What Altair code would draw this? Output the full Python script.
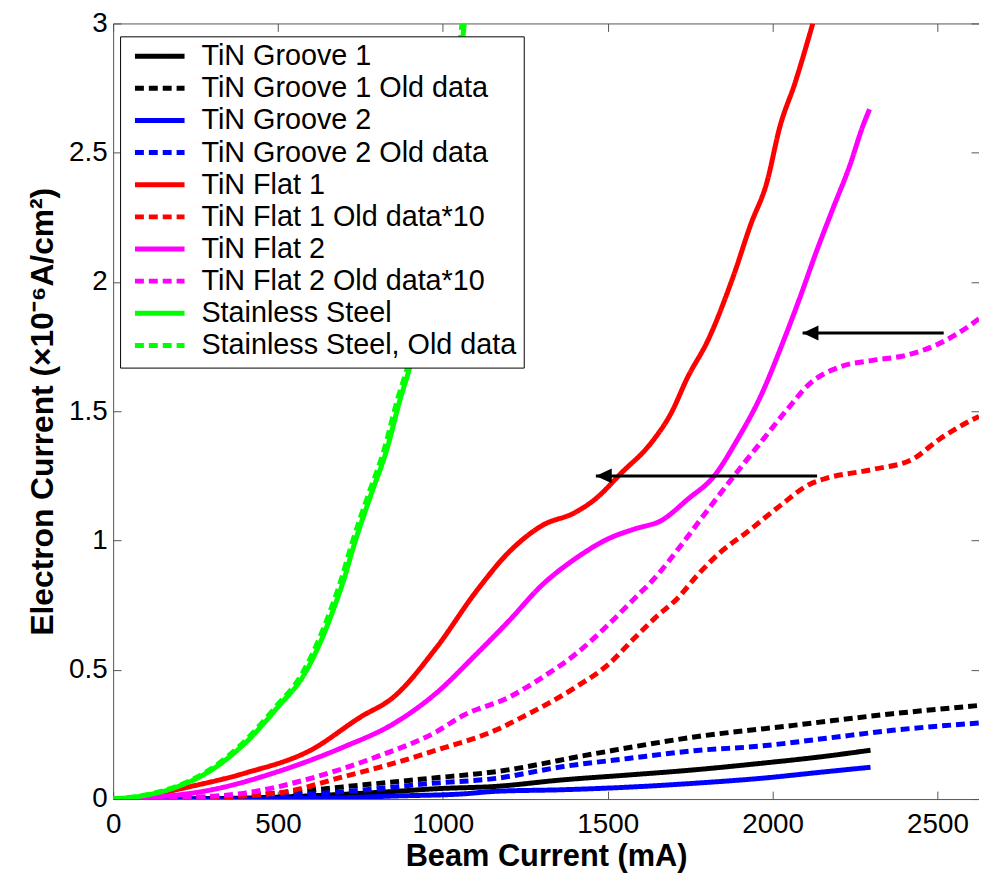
import altair as alt
import pandas as pd

# ---------------- data ----------------
series_names = [
    "TiN Groove 1", "TiN Groove 1 Old data",
    "TiN Groove 2", "TiN Groove 2 Old data",
    "TiN Flat 1", "TiN Flat 1 Old data*10",
    "TiN Flat 2", "TiN Flat 2 Old data*10",
    "Stainless Steel", "Stainless Steel, Old data",
]
series_colors = ["#000000", "#000000", "#0000ff", "#0000ff", "#ff0000",
                 "#ff0000", "#ff00ff", "#ff00ff", "#00ff00", "#00ff00"]
series_dashes = [[1, 0], [9, 5], [1, 0], [9, 5], [1, 0],
                 [9, 5], [1, 0], [9, 5], [1, 0], [9, 5]]

g1_x = [0, 300, 460, 659, 860, 980, 1161, 1361, 1562, 1762, 1963, 2163, 2297]
g1_y = [0, 0.002, 0.006, 0.016, 0.03, 0.04, 0.049, 0.074, 0.093, 0.113, 0.138, 0.166, 0.189]

g1o_x = [0, 200, 358, 559, 760, 960, 1161, 1462, 1762, 2063, 2364, 2626]
g1o_y = [0, 0.003, 0.01, 0.03, 0.055, 0.08, 0.106, 0.176, 0.240, 0.285, 0.330, 0.362]

g2_x = [0, 300, 659, 860, 1061, 1161, 1361, 1562, 1762, 1963, 2163, 2297]
g2_y = [0, 0.0, 0.004, 0.012, 0.02, 0.03, 0.036, 0.046, 0.061, 0.08, 0.106, 0.123]

g2o_x = [0, 358, 559, 760, 960, 1161, 1361, 1562, 1762, 1963, 2163, 2364, 2626]
g2o_y = [0, 0.0, 0.016, 0.035, 0.06, 0.080, 0.125, 0.157, 0.187, 0.205, 0.235, 0.266, 0.294]

f1_x = [0, 100, 198, 399, 599, 750, 850, 980, 1101, 1201, 1301, 1402, 1462, 1542,
        1632, 1692, 1743, 1803, 1883, 1933, 1983, 2022, 2068, 2122]
f1_y = [0, 0.01, 0.038, 0.10, 0.189, 0.317, 0.394, 0.585, 0.803, 0.956, 1.058, 1.109,
        1.16, 1.262, 1.378, 1.492, 1.633, 1.772, 2.03, 2.22, 2.387, 2.60, 2.77, 3.0]

f1o_x = [0, 250, 499, 700, 850, 980, 1161, 1241, 1402, 1502, 1582, 1643, 1712, 1772,
         1843, 1923, 2023, 2113, 2153, 2304, 2424, 2504, 2605, 2626]
f1o_y = [0, 0.005, 0.023, 0.087, 0.138, 0.189, 0.267, 0.317, 0.432, 0.521, 0.624, 0.70,
         0.777, 0.866, 0.956, 1.033, 1.135, 1.218, 1.237, 1.275, 1.314, 1.39, 1.467, 1.48]

f2_x = [0, 100, 299, 499, 700, 850, 980, 1101, 1201, 1301, 1402, 1502, 1582, 1662,
        1743, 1823, 1893, 1963, 2033, 2083, 2133, 2183, 2234, 2274, 2294]
f2_y = [0, 0.005, 0.036, 0.106, 0.202, 0.291, 0.41, 0.56, 0.69, 0.828, 0.93, 1.007,
        1.045, 1.077, 1.16, 1.25, 1.39, 1.556, 1.772, 1.94, 2.118, 2.284, 2.45, 2.604, 2.668]

f2o_x = [0, 200, 399, 599, 800, 980, 1061, 1201, 1301, 1402, 1502, 1582, 1642, 1722,
         1783, 1883, 1963, 2043, 2113, 2203, 2304, 2404, 2504, 2605, 2626]
f2o_y = [0, 0.005, 0.023, 0.08, 0.164, 0.26, 0.323, 0.394, 0.47, 0.56, 0.675, 0.777,
         0.854, 0.981, 1.084, 1.25, 1.378, 1.505, 1.607, 1.671, 1.697, 1.716, 1.761, 1.838, 1.858]

ss_x = [0, 100, 198, 299, 399, 499, 580, 630, 670, 700, 730, 780, 830, 870, 900,
        940, 980, 1020, 1065]
ss_y = [0, 0.015, 0.049, 0.113, 0.215, 0.355, 0.483, 0.611, 0.74, 0.85, 0.98, 1.17,
        1.352, 1.544, 1.671, 1.88, 2.14, 2.47, 3.0]

sso_x = [0, 95, 192, 292, 392, 492, 572, 622, 662, 692, 722, 772, 822, 862, 893,
         933, 973, 1013, 1058]
sso_y = [0, 0.015, 0.049, 0.113, 0.215, 0.355, 0.483, 0.611, 0.74, 0.85, 0.98, 1.17,
         1.352, 1.544, 1.671, 1.88, 2.14, 2.47, 3.0]

all_x = [g1_x, g1o_x, g2_x, g2o_x, f1_x, f1o_x, f2_x, f2o_x, ss_x, sso_x]
all_y = [g1_y, g1o_y, g2_y, g2o_y, f1_y, f1o_y, f2_y, f2o_y, ss_y, sso_y]

x_ticks = [0, 500, 1000, 1500, 2000, 2500]
y_ticks = [0, 0.5, 1, 1.5, 2, 2.5, 3]
X_MAX = 2626
Y_MAX = 3

arrow_y = [1.803, 1.25]
arrow_tail_x = [2519, 2135]
arrow_tip_x = [2091, 1464]

# ---------------- tables ----------------
rows = []
for name, xs_, ys_ in zip(series_names, all_x, all_y):
    for i, (xv, yv) in enumerate(zip(xs_, ys_)):
        rows.append({"series": name, "x": xv, "y": yv, "idx": i})
df = pd.DataFrame(rows)
arrows = pd.DataFrame({"y": arrow_y, "tail": arrow_tail_x, "tip": arrow_tip_x})

W, H = 873, 782
FONT = "Liberation Sans"
FRAME = "#555555"

xs = alt.Scale(domain=[0, X_MAX], nice=False, zero=False)
ys = alt.Scale(domain=[0, Y_MAX], nice=False, zero=False)

legend = alt.Legend(
    orient="none", legendX=7, legendY=13, title=None,
    labelFont=FONT, labelFontSize=29, labelColor="black", labelLimit=0,
    symbolType="stroke", symbolSize=2500, symbolStrokeWidth=5,
    symbolOffset=5.5, labelOffset=14.5, clipHeight=26, rowPadding=3.4,
    padding=7, strokeColor="black", fillColor="white", cornerRadius=0,
)

lines = alt.Chart(df).mark_line(strokeWidth=5, clip=True, strokeCap="butt",
                                strokeJoin="round", interpolate="monotone").encode(
    x=alt.X("x:Q", scale=xs, axis=alt.Axis(
        orient="bottom", values=x_ticks, format="d", ticks=False, tickSize=0,
        domain=False, grid=False, labelFont=FONT, labelFontSize=28,
        labelColor="black", labelPadding=12, labelFlush=False, labelOverlap=False,
        title="Beam Current (mA)", titleFont=FONT, titleFontSize=31,
        titleFontWeight="bold", titleColor="black", titleX=W / 2, titleY=67,
        titleAlign="center", titleBaseline="alphabetic")),
    y=alt.Y("y:Q", scale=ys, axis=alt.Axis(
        orient="left", values=y_ticks, format="~g", ticks=False, tickSize=0,
        domain=False, grid=False, labelFont=FONT, labelFontSize=28,
        labelColor="black", labelPadding=6, labelFlush=False, labelOverlap=False,
        title="Electron Current (×10⁻⁶A/cm²)", titleFont=FONT, titleFontSize=32,
        titleFontWeight="bold", titleColor="black", titleAngle=270,
        titleX=-61, titleY=H / 2, titleAlign="center",
        titleBaseline="alphabetic")),
    color=alt.Color("series:N", scale=alt.Scale(domain=series_names,
                                                range=series_colors), legend=legend),
    strokeDash=alt.StrokeDash("series:N", scale=alt.Scale(domain=series_names,
                                                          range=series_dashes), legend=legend),
    order=alt.Order("idx:Q"),
)

shaft = alt.Chart(arrows).mark_rule(color="black", strokeWidth=3).encode(
    x=alt.X("tail:Q", scale=xs, axis=None),
    x2="tip:Q",
    y=alt.Y("y:Q", scale=ys, axis=None),
)
head = alt.Chart(arrows).mark_point(
    shape="M0,0 L1,-0.47 L1,0.47 Z", size=1024, filled=True, color="black",
    opacity=1, strokeWidth=0).encode(
    x=alt.X("tip:Q", scale=xs, axis=None),
    y=alt.Y("y:Q", scale=ys, axis=None),
)

tick_common = dict(labels=False, domain=False, grid=False, title=None,
                   ticks=True, tickSize=8, tickColor=FRAME, tickWidth=1)

ticks_a = alt.Chart(df).mark_point(opacity=0).encode(
    x=alt.X("x:Q", scale=xs, axis=alt.Axis(orient="top", offset=-H,
                                           values=x_ticks, **tick_common)),
    y=alt.Y("y:Q", scale=ys, axis=alt.Axis(orient="right", offset=-W,
                                           values=y_ticks, **tick_common)),
)
ticks_b = alt.Chart(df).mark_point(opacity=0).encode(
    x=alt.X("x:Q", scale=xs, axis=alt.Axis(orient="bottom", offset=-H,
                                           values=x_ticks, **tick_common)),
    y=alt.Y("y:Q", scale=ys, axis=alt.Axis(orient="left", offset=-W,
                                           values=y_ticks, **tick_common)),
)

chart = alt.layer(lines, shaft, head, ticks_a, ticks_b).resolve_axis(
    x="independent", y="independent"
).properties(
    width=W, height=H,
    autosize=alt.AutoSizeParams(type="none"),
    padding={"left": 106, "top": 12, "right": 0, "bottom": 74},
    background="white",
).configure_view(stroke=FRAME, strokeWidth=1)

chart.save("out.html", embed_options={"renderer": "svg", "actions": False})
